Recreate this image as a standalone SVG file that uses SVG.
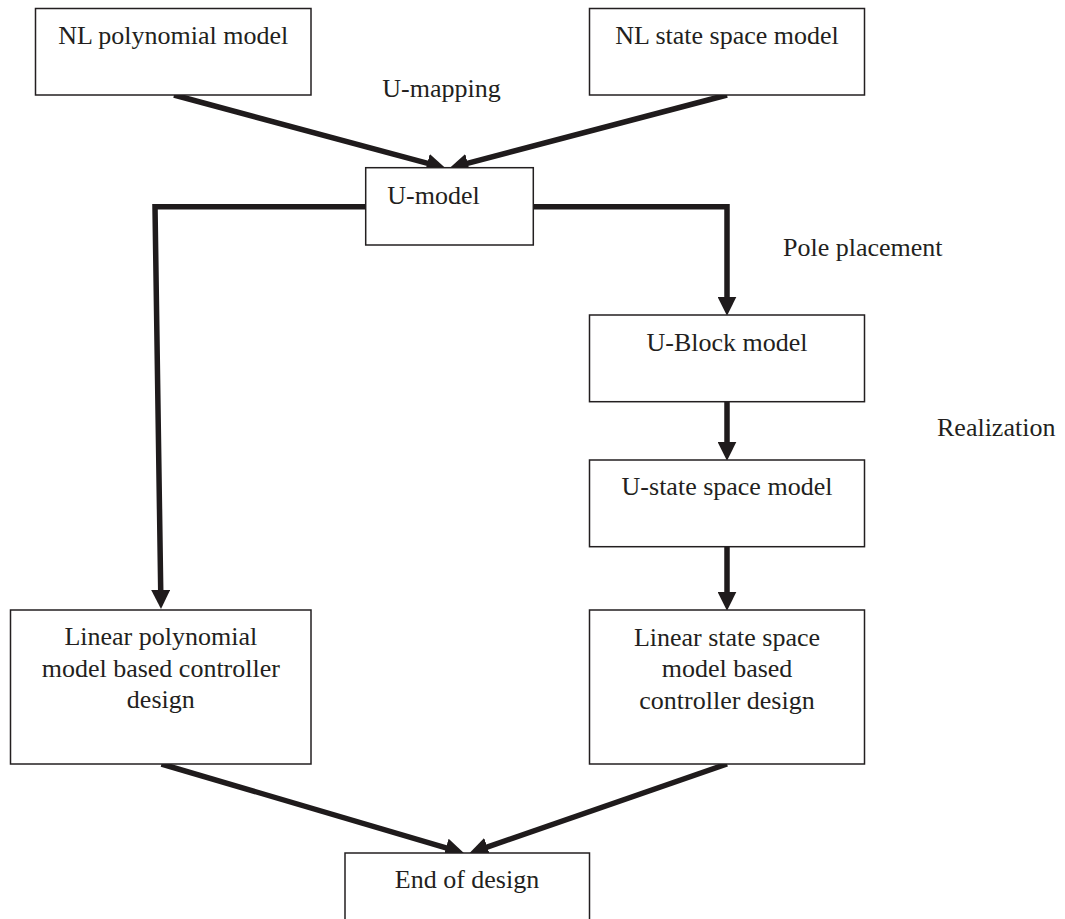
<svg xmlns="http://www.w3.org/2000/svg" width="1065" height="919" viewBox="0 0 1065 919">
  <style>
    .box { fill: #ffffff; stroke: #231f20; stroke-width: 1.5; }
    .t { font-family: "Liberation Serif", "Times New Roman", serif; font-size: 26px; fill: #231f20; }
    .c { text-anchor: middle; }
    .conn { fill: none; stroke: #1f1b1c; stroke-width: 5.5; stroke-linejoin: miter; stroke-linecap: butt; }
  </style>
  <defs>
    <marker id="ah" markerUnits="userSpaceOnUse" markerWidth="19" markerHeight="19" viewBox="0 0 18 18" refX="6" refY="9" orient="auto">
      <path d="M0,0 L18,9 L0,18 z" fill="#1f1b1c"/>
    </marker>
  </defs>
  <rect width="1065" height="919" fill="#ffffff"/>

  <g id="connectors">
    <line class="conn" x1="174" y1="95" x2="433.4" y2="164.9" marker-end="url(#ah)"/>
    <line class="conn" x1="727" y1="95" x2="461.6" y2="164.9" marker-end="url(#ah)"/>
    <path class="conn" d="M365.7,206.7 L155,206.7 L160.8,596.3" marker-end="url(#ah)"/>
    <path class="conn" d="M533.3,206.7 L727,206.7 L727,303" marker-end="url(#ah)"/>
    <line class="conn" x1="727" y1="401.7" x2="727" y2="448" marker-end="url(#ah)"/>
    <line class="conn" x1="727" y1="546.7" x2="727" y2="598" marker-end="url(#ah)"/>
    <line class="conn" x1="161.5" y1="764" x2="452" y2="849.6" marker-end="url(#ah)"/>
    <line class="conn" x1="727" y1="764" x2="481.3" y2="849.1" marker-end="url(#ah)"/>
  </g>

  <g id="labels">
    <text class="t" x="382.3" y="97.3">U-mapping</text>
    <text class="t" x="783" y="256">Pole placement</text>
    <text class="t" x="937" y="436">Realization</text>
  </g>

  <g id="nl-polynomial">
    <rect class="box" x="35.5" y="8.5" width="275.5" height="86.5"/>
    <text class="t c" x="173.2" y="43.5">NL polynomial model</text>
  </g>
  <g id="nl-state-space">
    <rect class="box" x="589.5" y="8.5" width="275" height="86.5"/>
    <text class="t c" x="727" y="43.5">NL state space model</text>
  </g>
  <g id="u-model">
    <rect class="box" x="365.7" y="167.7" width="167.6" height="77.3"/>
    <text class="t" x="387.3" y="204">U-model</text>
  </g>
  <g id="u-block">
    <rect class="box" x="589.5" y="315" width="275" height="86.7"/>
    <text class="t c" x="727" y="351">U-Block model</text>
  </g>
  <g id="u-state-space">
    <rect class="box" x="589.5" y="460" width="275" height="86.7"/>
    <text class="t c" x="727" y="495.3">U-state space model</text>
  </g>
  <g id="linear-polynomial">
    <rect class="box" x="10.5" y="610" width="300.5" height="154"/>
    <text class="t c" x="160.8" y="645">Linear polynomial</text>
    <text class="t c" x="160.8" y="676.7">model based controller</text>
    <text class="t c" x="160.8" y="708.3">design</text>
  </g>
  <g id="linear-state-space">
    <rect class="box" x="589.5" y="610" width="275" height="154"/>
    <text class="t c" x="727" y="645.5">Linear state space</text>
    <text class="t c" x="727" y="677">model based</text>
    <text class="t c" x="727" y="708.5">controller design</text>
  </g>
  <g id="end-of-design">
    <rect class="box" x="345" y="853" width="244.5" height="80"/>
    <text class="t c" x="467" y="888.3">End of design</text>
  </g>
</svg>
